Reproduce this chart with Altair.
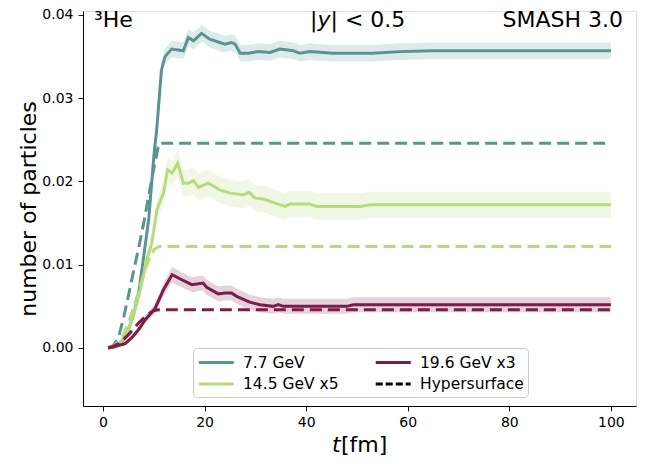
import altair as alt
import pandas as pd

# ---------------- data (t [fm], value, band half-width) ----------------
SERIES = ["7.7 GeV", "14.5 GeV x5", "19.6 GeV x3"]
COLORS = ["#5a938f", "#b4dc7f", "#7c1d49"]

teal_solid = [
    (1, 0.0000, 0.0000), (2, 0.0001, 0.0001), (3, 0.0004, 0.0001), (4, 0.0010, 0.0002),
    (5, 0.0022, 0.0003), (6, 0.0040, 0.0004), (7, 0.0065, 0.0005), (8, 0.0110, 0.0006),
    (9, 0.0155, 0.0007), (10, 0.0230, 0.0008), (10.6, 0.0265, 0.0008), (11.5, 0.0334, 0.0009),
    (12.2, 0.0350, 0.0009), (13.5, 0.0359, 0.0010), (15.8, 0.0357, 0.0010), (16.8, 0.0373, 0.0010),
    (17.8, 0.0369, 0.0010), (19.4, 0.0378, 0.0010), (21.0, 0.0371, 0.0010), (24.0, 0.0365, 0.0010),
    (25.3, 0.0367, 0.0010), (26.0, 0.0365, 0.0010), (27.0, 0.0354, 0.0010), (28.6, 0.0354, 0.0010),
    (30.6, 0.0356, 0.0010), (32.9, 0.0355, 0.0010), (34.8, 0.0359, 0.0010), (37.5, 0.0357, 0.0010),
    (38.8, 0.0354, 0.0010), (40.7, 0.0356, 0.0010), (45.3, 0.0354, 0.0010), (53.0, 0.0354, 0.0010),
    (58.5, 0.0356, 0.0010), (65.0, 0.0357, 0.0010), (100, 0.0357, 0.0010),
]

green_solid = [
    (1, 0.0000, 0.0000), (2, 0.0001, 0.0001), (3, 0.0004, 0.0002), (4.3, 0.0014, 0.0003),
    (5, 0.0022, 0.0004), (6, 0.0040, 0.0005), (7, 0.0062, 0.0007), (8, 0.0088, 0.0009),
    (8.6, 0.0106, 0.0010), (9.6, 0.0126, 0.0011), (10.6, 0.0166, 0.0013), (11.9, 0.0186, 0.0014),
    (12.7, 0.0214, 0.0015), (13.6, 0.0210, 0.0015), (14.7, 0.0222, 0.0016), (15.8, 0.0198, 0.0016),
    (16.8, 0.0198, 0.0016), (17.8, 0.0201, 0.0016), (18.8, 0.0193, 0.0016), (20.7, 0.0198, 0.0016),
    (23.0, 0.0190, 0.0016), (25.0, 0.0186, 0.0016), (27.6, 0.0184, 0.0016), (28.8, 0.0187, 0.0016),
    (29.9, 0.0180, 0.0016), (31.6, 0.0179, 0.0016), (33.9, 0.0174, 0.0016), (35.8, 0.0170, 0.0016),
    (36.8, 0.0173, 0.0016), (40.7, 0.0173, 0.0016), (42.0, 0.0170, 0.0016), (50.6, 0.0170, 0.0016),
    (52.6, 0.0172, 0.0016), (100, 0.0172, 0.0016),
]

maroon_solid = [
    (1, 0.0001, 0.0000), (2, 0.0001, 0.0001), (3, 0.0003, 0.0001), (4.3, 0.0005, 0.0002),
    (5.6, 0.0012, 0.0003), (7, 0.0022, 0.0004), (8.3, 0.0034, 0.0005), (10.2, 0.0047, 0.0006),
    (11.9, 0.0070, 0.0008), (13.6, 0.0088, 0.0009), (15.5, 0.0082, 0.0009), (17.5, 0.0076, 0.0009),
    (19.7, 0.0078, 0.0009), (20.4, 0.0073, 0.0009), (22.7, 0.0065, 0.0009), (24.0, 0.0066, 0.0009),
    (25.3, 0.0066, 0.0009), (26.3, 0.0062, 0.0009), (28.9, 0.0055, 0.0009), (30.9, 0.0052, 0.0009),
    (33.5, 0.0050, 0.0009), (34.5, 0.0052, 0.0009), (35.5, 0.0050, 0.0009), (48.0, 0.0050, 0.0009),
    (49.3, 0.0052, 0.0009), (100, 0.0052, 0.0009),
]

teal_hyper = [
    (1, 0.0000), (2, 0.0003), (3, 0.0012), (4, 0.0035), (5, 0.0063), (6, 0.0092),
    (7, 0.0120), (8, 0.0150), (9, 0.0183), (10, 0.0216), (11, 0.0246), (100, 0.0246),
]
green_hyper = [
    (1, 0.0000), (2, 0.0002), (3, 0.0007), (4, 0.0016), (5, 0.0030), (6, 0.0048),
    (7, 0.0068), (8, 0.0088), (9, 0.0106), (10, 0.0118), (11, 0.0122), (100, 0.0122),
]
maroon_hyper = [
    (1, 0.0000), (2, 0.0002), (3, 0.0005), (4, 0.0010), (5, 0.0016), (6, 0.0023),
    (7, 0.0030), (8, 0.0036), (9, 0.0041), (10, 0.0045), (11, 0.0046), (100, 0.0046),
]

X_TICKS = [0, 20, 40, 60, 80, 100]
Y_TICKS = [0.00, 0.01, 0.02, 0.03, 0.04]
LEGEND_KEYS = ["7.7 GeV", "14.5 GeV x5", "19.6 GeV x3", "Hypersurface"]
LEGEND_COLORS = ["#5a938f", "#b4dc7f", "#7c1d49", "#000000"]

# ---------------- tables ----------------
rows = []
for name, pts in zip(SERIES, [teal_solid, green_solid, maroon_solid]):
    for t, v, e in pts:
        rows.append({"series": name, "t": t, "v": v, "lo": v - e, "hi": v + e})
solid_df = pd.DataFrame(rows)

rows = []
for name, pts in zip(SERIES, [teal_hyper, green_hyper, maroon_hyper]):
    for t, v in pts:
        rows.append({"series": name, "t": t, "v": v})
hyper_df = pd.DataFrame(rows)

legend_df = pd.DataFrame({"key": LEGEND_KEYS, "t": [1] * 4, "v": [0.0] * 4})

FONT = "DejaVu Sans"
W, H = 553, 395

x_scale = alt.Scale(domain=[-3.95, 104.95], nice=False, zero=False)
y_scale = alt.Scale(domain=[-0.00697, 0.04048], nice=False, zero=False)
color_scale = alt.Scale(domain=SERIES, range=COLORS)

x_axis = alt.Axis(values=X_TICKS, format="d", title=None, grid=False,
                  tickSize=5, labelPadding=4, labelFontSize=14, labelFont=FONT,
                  labelColor="black", tickColor="black", domainColor="black",
                  tickWidth=0.9, domainWidth=1)
y_axis = alt.Axis(values=Y_TICKS, format=".2f", title="number of particles", grid=False,
                  tickSize=5, labelPadding=5, labelFontSize=14, labelFont=FONT,
                  labelColor="black", tickColor="black", domainColor="black",
                  tickWidth=0.9, domainWidth=1,
                  titleFont=FONT, titleFontSize=22, titleFontWeight="normal",
                  titleColor="black", titleX=-55, titleY=H / 2, titleAngle=270,
                  titleAlign="center", titleBaseline="middle")

base_x = alt.X("t:Q", scale=x_scale, axis=x_axis)

bands = alt.Chart(solid_df).mark_area(opacity=0.2).encode(
    x=base_x,
    y=alt.Y("lo:Q", scale=y_scale, axis=y_axis),
    y2="hi:Q",
    color=alt.Color("series:N", scale=color_scale, legend=None),
    detail="series:N",
)

solid = alt.Chart(solid_df).mark_line(strokeWidth=3).encode(
    x=base_x,
    y=alt.Y("v:Q", scale=y_scale),
    color=alt.Color("series:N", scale=color_scale, legend=None),
    detail="series:N",
)

dashed = alt.Chart(hyper_df).mark_line(strokeWidth=3, strokeDash=[12, 6]).encode(
    x=base_x,
    y=alt.Y("v:Q", scale=y_scale),
    color=alt.Color("series:N", scale=color_scale, legend=None),
    detail="series:N",
)

leg = alt.Legend(
    title=None, orient="none", legendX=110, legendY=337, columns=2,
    symbolType="M-1,0H3", symbolSize=306.25, symbolStrokeWidth=3,
    labelFont=FONT, labelFontSize=15.5, labelColor="black", labelOffset=25,
    labelLimit=300, padding=4, cornerRadius=4, strokeColor="#cccccc",
    fillColor="white", columnPadding=30, rowPadding=2.5,
)
legend_layer = alt.Chart(legend_df).transform_filter("false").mark_line(strokeWidth=3).encode(
    x=alt.X("t:Q", scale=x_scale),
    y=alt.Y("v:Q", scale=y_scale),
    color=alt.Color("key:N", scale=alt.Scale(domain=LEGEND_KEYS, range=LEGEND_COLORS), legend=leg),
    strokeDash=alt.StrokeDash("key:N", scale=alt.Scale(domain=LEGEND_KEYS,
                              range=[[1, 0], [1, 0], [1, 0], [7, 3]]), legend=leg),
)


def label(txt, x, y, align="left", style="normal"):
    return alt.Chart(pd.DataFrame({"s": [txt]})).mark_text(
        font=FONT, fontSize=22, align=align, baseline="alphabetic",
        fontStyle=style, color="black",
    ).encode(text="s:N", x=alt.value(x), y=alt.value(y))


texts = [
    label("³He", 11, 16),
    label("|", 227, 16),
    label("y", 234.5, 16, style="italic"),
    label("| < 0.5", 247.5, 16),
    label("SMASH 3.0", 540, 16, align="right"),
    label("t", 249, 441, style="italic"),
    label("[fm]", 258, 441),
]

chart = alt.layer(bands, solid, dashed, legend_layer, *texts).resolve_scale(
    color="independent", strokeDash="independent"
).properties(
    width=W, height=H,
    autosize=alt.AutoSizeParams(type="none"),
    padding={"left": 75, "top": 3, "right": 13, "bottom": 50},
).configure_view(stroke="black", strokeWidth=1).configure(font=FONT)

chart.save("out.html", embed_options={"renderer": "svg", "actions": False})
